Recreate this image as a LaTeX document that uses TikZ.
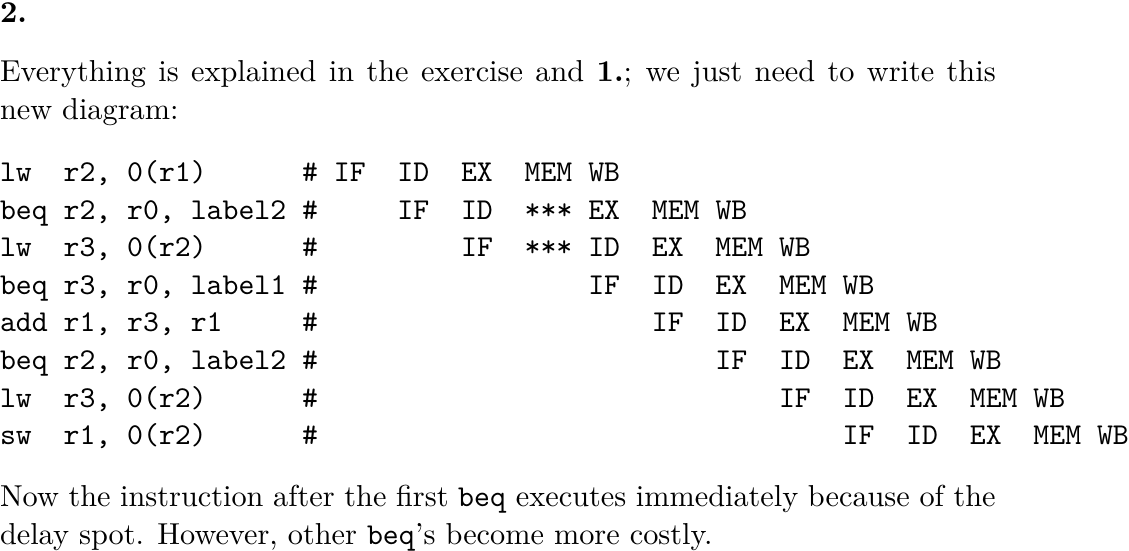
\documentclass[tikz,border=0pt]{standalone}
\usepackage{fontspec}
\newcommand\blank[1]{\hspace*{\dimexpr 0.525em*#1\relax}}
\tikzset{
  txt/.style={anchor=base west, inner sep=0pt, outer sep=0pt, font=\fontsize{10.95}{13.6}\selectfont},
  head/.style={anchor=base west, inner sep=0pt, outer sep=0pt, font=\fontsize{10.95}{13.6}\selectfont\bfseries},
  code/.style={anchor=base west, inner sep=0pt, outer sep=0pt, font=\fontsize{10.95}{13.6}\selectfont\ttfamily},
}
\begin{document}
\begin{tikzpicture}[x=1pt,y=1pt]
\useasboundingbox (0,0) rectangle (408.2,-199.2);
\node[head] (h) at (0,-8.3) {2.};
\node[txt] (p1a) at (0,-29.6) {\hbox to 360pt{Everything is explained in the exercise and \textbf{1.}; we just need to write this}};
\node[txt] (p1b) at (0,-43.2) {new diagram:};
\node[code] (c1) at (0,-65.6) {lw~~r2,~0(r1)\blank{6}\#~IF~~ID~~EX~~MEM~WB};
\node[code] (c2) at (0,-79.2) {beq~r2,~r0,~label2~\#\blank{5}IF~~ID~~***~EX~~MEM~WB};
\node[code] (c3) at (0,-92.8) {lw~~r3,~0(r2)\blank{6}\#\blank{9}IF~~***~ID~~EX~~MEM~WB};
\node[code] (c4) at (0,-106.4) {beq~r3,~r0,~label1~\#\blank{17}IF~~ID~~EX~~MEM~WB};
\node[code] (c5) at (0,-120.0) {add~r1,~r3,~r1\blank{5}\#\blank{21}IF~~ID~~EX~~MEM~WB};
\node[code] (c6) at (0,-133.6) {beq~r2,~r0,~label2~\#\blank{25}IF~~ID~~EX~~MEM~WB};
\node[code] (c7) at (0,-147.2) {lw~~r3,~0(r2)\blank{6}\#\blank{29}IF~~ID~~EX~~MEM~WB};
\node[code] (c8) at (0,-160.8) {sw~~r1,~0(r2)\blank{6}\#\blank{33}IF~~ID~~EX~~MEM~WB};
\node[txt] (p2a) at (0,-183.3) {\hbox to 360pt{Now the instruction after the first \texttt{beq} executes immediately because of the}};
\node[txt] (p2b) at (0,-196.9) {delay spot. However, other \texttt{beq}'s become more costly.};
\end{tikzpicture}
\end{document}
